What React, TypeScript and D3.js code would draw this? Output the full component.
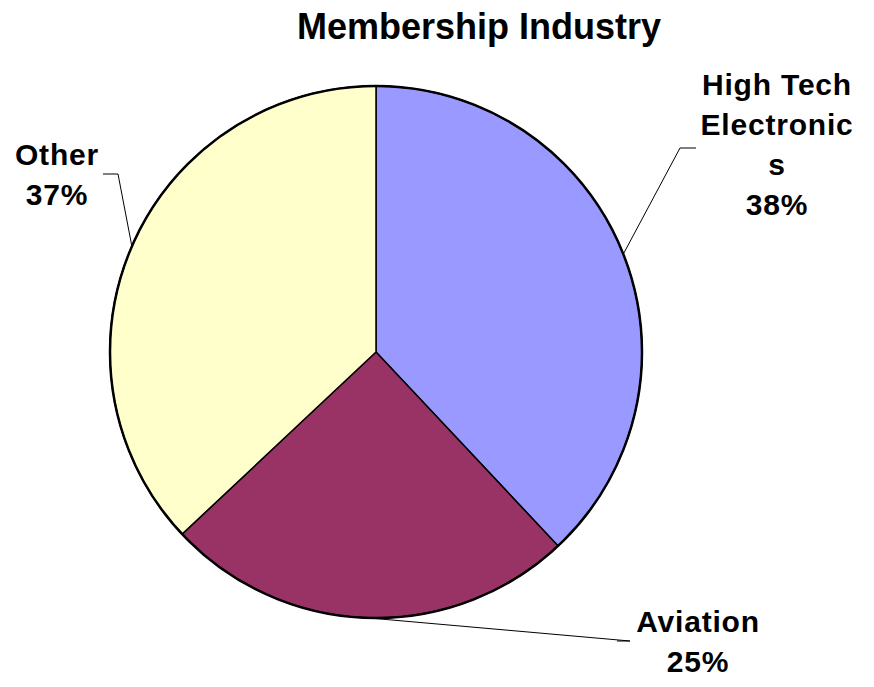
import React from "react";
import * as d3 from "d3";

const categories = ["High Tech Electronics", "Aviation", "Other"];
const shares = [38, 25, 37];
const labelLines = [["High Tech", "Electronic", "s", "38%"], ["Aviation", "25%"], ["Other", "37%"]];
const colors = ["#9999FF", "#993366", "#FFFFCC"];

const width = 874;
const height = 687;
const cx = 376;
const cy = 352;
const radius = 266;

// where each leader line bends, and where its label block sits
const elbows = [
  { x: 680, y: 148, end: 696, tx: 777, ty: 95 },
  { x: 630, y: 641, end: 617, tx: 698, ty: 632 },
  { x: 118, y: 174, end: 103, tx: 57, ty: 165 },
];

const App: React.FC = () => {
  const pie = d3.pie<number>().sort(null).value((d) => d);
  const arcs = pie(shares);
  const arc = d3.arc<d3.PieArcDatum<number>>().innerRadius(0).outerRadius(radius);
  const font = "Arial, 'Liberation Sans', sans-serif";

  return (
    <svg
      width={width}
      height={height}
      style={{ position: "absolute", left: 0, top: 0, background: "#fff" }}
    >
      <text
        x={479}
        y={39}
        textAnchor="middle"
        fontFamily={font}
        fontWeight="bold"
        fontSize={36}
      >
        Membership Industry
      </text>
      <g transform={`translate(${cx},${cy})`}>
        {arcs.map((a, i) => (
          <path
            key={categories[i]}
            d={arc(a) || ""}
            fill={colors[i]}
            stroke="#000"
            strokeWidth={1.5}
          />
        ))}
        <circle r={radius} fill="none" stroke="#000" strokeWidth={2.5} />
      </g>
      {arcs.map((a, i) => {
        const mid = (a.startAngle + a.endAngle) / 2;
        const sx = cx + Math.sin(mid) * radius;
        const sy = cy - Math.cos(mid) * radius;
        const e = elbows[i];
        return (
          <g key={"lbl" + i}>
            <polyline
              points={`${sx},${sy} ${e.x},${e.y} ${e.end},${e.y}`}
              fill="none"
              stroke="#000"
              strokeWidth={1}
            />
            {labelLines[i].map((t, j) => (
              <text
                key={j}
                x={e.tx}
                y={e.ty + j * 40}
                textAnchor="middle"
                fontFamily={font}
                fontWeight="bold"
                fontSize={30}
                letterSpacing={0.8}
              >
                {t}
              </text>
            ))}
          </g>
        );
      })}
    </svg>
  );
};

export default App;
